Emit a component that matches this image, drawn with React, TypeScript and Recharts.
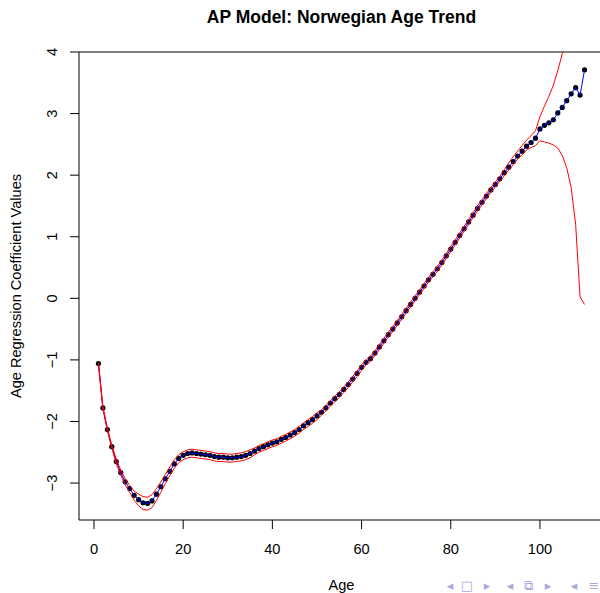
import React from 'react';
import { ComposedChart, Line, XAxis, YAxis, ReferenceArea } from 'recharts';

// age groups 1..110
const ages = [
  1, 2, 3, 4, 5, 6, 7, 8, 9, 10, 11, 12, 13, 14, 15, 16, 17, 18, 19, 20,
  21, 22, 23, 24, 25, 26, 27, 28, 29, 30, 31, 32, 33, 34, 35, 36, 37, 38, 39, 40,
  41, 42, 43, 44, 45, 46, 47, 48, 49, 50, 51, 52, 53, 54, 55, 56, 57, 58, 59, 60,
  61, 62, 63, 64, 65, 66, 67, 68, 69, 70, 71, 72, 73, 74, 75, 76, 77, 78, 79, 80,
  81, 82, 83, 84, 85, 86, 87, 88, 89, 90, 91, 92, 93, 94, 95, 96, 97, 98, 99, 100,
  101, 102, 103, 104, 105, 106, 107, 108, 109, 110,
];

const estimates = [
  -1.06, -1.78, -2.13, -2.41, -2.65, -2.83, -2.98, -3.09, -3.2, -3.27,
  -3.32, -3.33, -3.29, -3.18, -3.06, -2.93, -2.81, -2.69, -2.6, -2.55,
  -2.52, -2.51, -2.52, -2.53, -2.54, -2.55, -2.57, -2.58, -2.58, -2.59,
  -2.59, -2.58, -2.57, -2.55, -2.52, -2.48, -2.44, -2.41, -2.38, -2.35,
  -2.33, -2.29, -2.26, -2.22, -2.18, -2.13, -2.07, -2.02, -1.97, -1.91,
  -1.85, -1.78, -1.7, -1.63, -1.56, -1.48, -1.4, -1.31, -1.22, -1.12,
  -1.04, -0.98, -0.89, -0.79, -0.69, -0.59, -0.5, -0.4, -0.3, -0.2,
  -0.1, 0.0, 0.1, 0.2, 0.3, 0.39, 0.48, 0.58, 0.69, 0.8,
  0.91, 1.02, 1.13, 1.24, 1.35, 1.46, 1.56, 1.66, 1.76, 1.85,
  1.94, 2.04, 2.13, 2.22, 2.31, 2.39, 2.47, 2.53, 2.6, 2.75,
  2.81, 2.85, 2.9, 3.01, 3.1, 3.21, 3.32, 3.42, 3.3, 3.71,
];

const upperBand = [
  -1.04, -1.76, -2.11, -2.39, -2.61, -2.79, -2.93, -3.04, -3.13, -3.18,
  -3.22, -3.23, -3.19, -3.09, -2.98, -2.86, -2.74, -2.62, -2.54, -2.49,
  -2.46, -2.45, -2.46, -2.47, -2.48, -2.49, -2.51, -2.52, -2.52, -2.53,
  -2.53, -2.52, -2.51, -2.49, -2.46, -2.43, -2.39, -2.36, -2.33, -2.3,
  -2.28, -2.24, -2.21, -2.17, -2.13, -2.08, -2.02, -1.97, -1.92, -1.86,
  -1.81, -1.74, -1.66, -1.59, -1.52, -1.44, -1.36, -1.27, -1.18, -1.08,
  -1.0, -0.94, -0.85, -0.75, -0.65, -0.55, -0.46, -0.36, -0.26, -0.16,
  -0.06, 0.04, 0.14, 0.24, 0.34, 0.43, 0.52, 0.62, 0.73, 0.84,
  0.95, 1.06, 1.17, 1.28, 1.39, 1.5, 1.6, 1.7, 1.8, 1.89,
  1.98, 2.09, 2.2, 2.3, 2.39, 2.48, 2.57, 2.64, 2.72, 2.95,
  3.12, 3.28, 3.46, 3.7, 3.97, 4.4, 4.9, 5.6, 6.6, 7.5,
];

const lowerBand = [
  -1.08, -1.8, -2.15, -2.43, -2.69, -2.87, -3.03, -3.15, -3.28, -3.37,
  -3.43, -3.44, -3.4, -3.28, -3.15, -3.01, -2.88, -2.76, -2.67, -2.62,
  -2.59, -2.58, -2.59, -2.6, -2.61, -2.62, -2.64, -2.65, -2.65, -2.66,
  -2.66, -2.65, -2.64, -2.62, -2.59, -2.54, -2.5, -2.47, -2.44, -2.41,
  -2.39, -2.35, -2.32, -2.28, -2.24, -2.19, -2.13, -2.08, -2.03, -1.97,
  -1.9, -1.83, -1.75, -1.68, -1.61, -1.53, -1.45, -1.36, -1.27, -1.17,
  -1.08, -1.02, -0.93, -0.83, -0.73, -0.63, -0.54, -0.44, -0.34, -0.24,
  -0.14, -0.04, 0.06, 0.16, 0.26, 0.35, 0.44, 0.54, 0.65, 0.76,
  0.87, 0.98, 1.09, 1.2, 1.31, 1.42, 1.52, 1.62, 1.72, 1.81,
  1.9, 1.99, 2.08, 2.17, 2.26, 2.33, 2.41, 2.45, 2.48, 2.56,
  2.54, 2.52, 2.49, 2.44, 2.32, 2.12, 1.8, 1.2, 0.02, -0.1,
];

const xTicks = [0, 20, 40, 60, 80, 100];
const yTicks = [-3, -2, -1, 0, 1, 2, 3, 4];
const navGlyphs = ['◂', '□', '▸', '◂', '⧉', '▸', '◂', '≡'];

const chartData = ages.map((age, i) => ({
  age,
  est: estimates[i],
  hi: upperBand[i],
  lo: lowerBand[i],
}));

const FONT = '"Liberation Sans", Arial, Helvetica, sans-serif';

const fmt = (v: number) => (v < 0 ? '\u2212' + Math.abs(v) : String(v));

const XTick = ({ x, payload }: any) => (
  <text x={x} y={554} textAnchor="middle" fontSize={14.6} fontFamily={FONT} fill="#000">
    {payload.value}
  </text>
);

const YTick = ({ y, payload }: any) => (
  <text
    x={51.5}
    y={y}
    dy="0.36em"
    textAnchor="middle"
    fontSize={14.6}
    fontFamily={FONT}
    fill="#000"
    transform={`rotate(-90 51.5 ${y})`}
  >
    {fmt(payload.value)}
  </text>
);

const Dot = ({ cx, cy }: any) => <circle cx={cx} cy={cy} r={2.6} fill="#000" />;

export default function App() {
  return (
    <div
      style={{
        position: 'absolute',
        left: 0,
        top: 0,
        width: 600,
        height: 593,
        overflow: 'hidden',
        background: '#fff',
      }}
    >
      <ComposedChart
        width={610}
        height={593}
        data={chartData}
        margin={{ top: 52, right: 6, left: 0, bottom: 0 }}
      >
        <XAxis
          dataKey="age"
          type="number"
          domain={[-3.36, 114.36]}
          ticks={xTicks}
          allowDataOverflow
          axisLine={false}
          tickLine={{ stroke: '#000' }}
          tickSize={9}
          tick={<XTick />}
          height={73}
        />
        <YAxis
          type="number"
          domain={[-3.6, 4]}
          ticks={yTicks}
          allowDataOverflow
          axisLine={false}
          tickLine={{ stroke: '#000' }}
          tickSize={9}
          tick={<YTick />}
          width={79}
        />
        {/* points first, then the fitted line, then the bands on top (as in the R plot) */}
        <Line dataKey="est" stroke="none" dot={<Dot />} activeDot={false} isAnimationActive={false} />
        <Line
          dataKey="est"
          stroke="#0000ff"
          strokeWidth={1}
          dot={false}
          isAnimationActive={false}
          {...({ zIndex: 700 } as any)}
        />
        <Line
          dataKey="hi"
          stroke="#ff0000"
          strokeWidth={1}
          dot={false}
          isAnimationActive={false}
          {...({ zIndex: 800 } as any)}
        />
        <Line
          dataKey="lo"
          stroke="#ff0000"
          strokeWidth={1}
          dot={false}
          isAnimationActive={false}
          {...({ zIndex: 800 } as any)}
        />
        <ReferenceArea
          x1={-3.36}
          x2={114.36}
          y1={-3.6}
          y2={4}
          fill="none"
          fillOpacity={0}
          stroke="#000"
          strokeWidth={1}
          ifOverflow="visible"
        />
      </ComposedChart>
      <svg
        width={600}
        height={593}
        style={{ position: 'absolute', left: 0, top: 0, pointerEvents: 'none' }}
      >
        <text x={341.5} y={23} textAnchor="middle" fontSize={17.5} fontWeight="bold" fontFamily={FONT}>
          AP Model: Norwegian Age Trend
        </text>
        <text x={341.5} y={590} textAnchor="middle" fontSize={14.6} fontFamily={FONT}>
          Age
        </text>
        <text
          x={21}
          y={286}
          textAnchor="middle"
          fontSize={14.6}
          fontFamily={FONT}
          transform="rotate(-90 21 286)"
        >
          Age Regression Coefficient Values
        </text>
        {navGlyphs.map((g, i) => (
          <text
            key={i}
            x={[450, 467, 487, 510, 528, 548, 574, 594][i]}
            y={590}
            textAnchor="middle"
            fontSize={13}
            fontFamily="DejaVu Sans, sans-serif"
            fill="#a9a9dc"
          >
            {g}
          </text>
        ))}
      </svg>
    </div>
  );
}
